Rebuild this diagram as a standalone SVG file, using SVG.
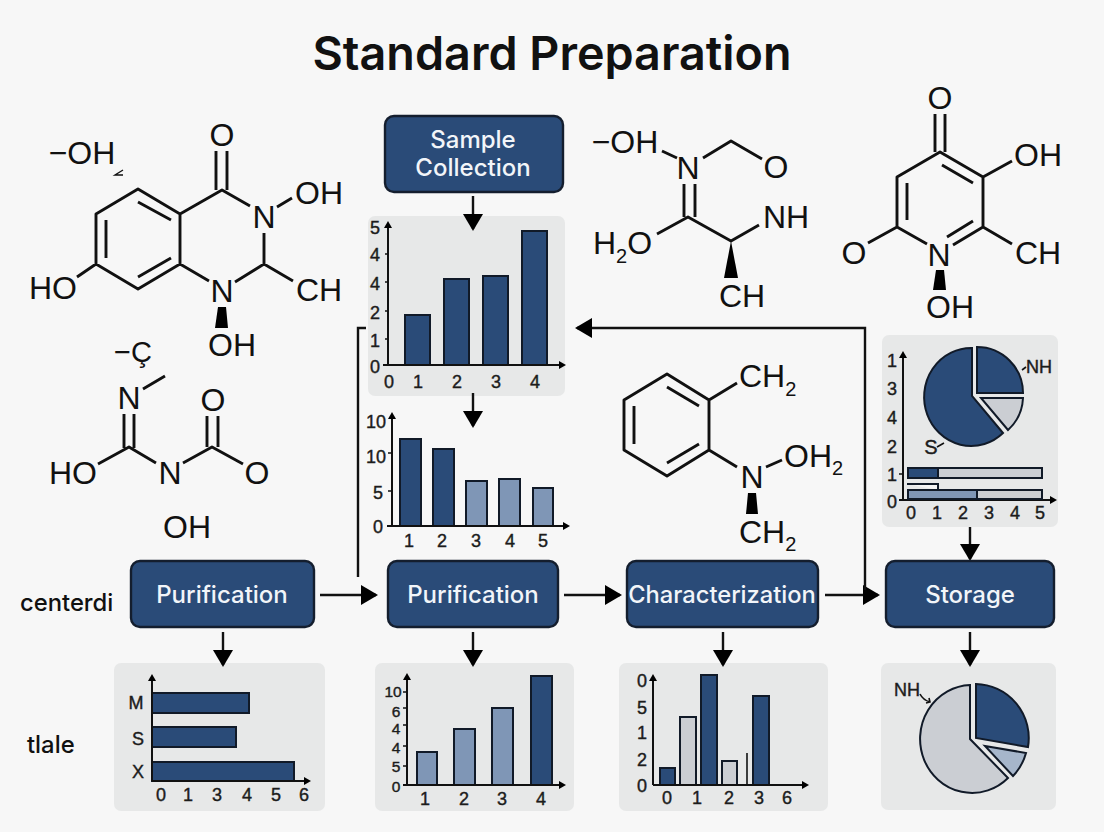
<svg xmlns="http://www.w3.org/2000/svg" width="1104" height="832" viewBox="0 0 1104 832">
<style>
.bond{fill:none;stroke:#111;stroke-width:2.9;stroke-linejoin:round}
.thin{fill:none;stroke:#111;stroke-width:1.4}
.wedge{fill:#000}
.mol{font-family:"Liberation Sans",Arial,sans-serif;font-size:32px;fill:#111;text-anchor:middle}
.mols{text-anchor:start}
.box{fill:#2a4b78;stroke:#141e2e;stroke-width:2.4}
.lab{font-family:Inter,"Liberation Sans",sans-serif;font-size:24px;font-weight:500;fill:#f2f5f9;text-anchor:middle}
.panel{fill:#e7e8e8}
.axis{fill:none;stroke:#111;stroke-width:2;marker-end:url(#ah)}
.tick{fill:none;stroke:#111;stroke-width:1.6}
.bd{fill:#2a4b78;stroke:#111a28;stroke-width:2}
.bl{fill:#7f96b6;stroke:#111a28;stroke-width:2}
.bg{fill:#cbced3;stroke:#111a28;stroke-width:2}
.bp{fill:#a6b6cb;stroke:#111a28;stroke-width:2}
.bw{fill:#f4f4f4;stroke:#111a28;stroke-width:2}
.n{font-family:"Liberation Sans",Arial,sans-serif;font-size:18px;fill:#1c1c1c;text-anchor:middle;stroke:#1c1c1c;stroke-width:.4}
.sm{font-size:15.5px}
.side{font-family:Inter,"Liberation Sans",sans-serif;font-size:23.8px;font-weight:500;fill:#111}
.conn{fill:none;stroke:#111;stroke-width:2.4;marker-end:url(#h)}
.plain{fill:none;stroke:#111;stroke-width:2.4}
</style>
<defs>
<marker id="h" markerUnits="userSpaceOnUse" markerWidth="18" markerHeight="20" refX="15" refY="10" orient="auto"><path d="M0,0L17,10L0,20Z" fill="#000"/></marker>
<marker id="ah" markerUnits="userSpaceOnUse" markerWidth="8" markerHeight="8" refX="5" refY="4" orient="auto"><path d="M0,0L7,4L0,8Z" fill="#000"/></marker>
</defs>
<rect width="1104" height="832" fill="#f7f7f7"/>
<text id="title" x="552" y="70" font-family="Inter,'Liberation Sans',sans-serif" font-size="46.7" font-weight="600" fill="#111" text-anchor="middle">Standard Preparation</text>
<text class="side" x="20" y="611">centerdi</text>
<text class="side" x="27" y="753">tlale</text>

<g id="mol-1">
<path class="bond" d="M138,189L180,214L180,264L138,289L96,264L96,214ZM138,202L171,220M106,220V258M138,277L171,258M216,151V190M227,151V190M180,214L222,190L250,206M277,207L292,198M264,233V264M264,264L235,282M264,264L293,281M180,264L209,281M96,264L77,277"/>
<path class="thin" d="M123,170L115,175H123"/>
<path class="wedge" d="M218,307H226L228,328H215Z"/>
<text class="mol" x="82" y="164">−OH</text><text class="mol" x="222" y="146">O</text><text class="mol" x="264" y="228">N</text><text class="mol" x="319" y="204">OH</text><text class="mol" x="222" y="302">N</text><text class="mol" x="319" y="301">CH</text><text class="mol" x="53" y="299">HO</text><text class="mol" x="232" y="356">OH</text>
</g>
<g id="mol-2">
<path class="bond" d="M143,389L165,376M124,414V448M134,414V448M98,464L129,447L156,463M183,463L212,447L243,464M207,416V447M218,416V447"/>
<text class="mol" x="133" y="362" style="font-size:29px">−Ç</text><text class="mol" x="129" y="409">N</text><text class="mol" x="73" y="484">HO</text><text class="mol" x="170" y="484">N</text><text class="mol" x="213" y="411">O</text><text class="mol" x="257" y="484">O</text><text class="mol" x="187" y="538">OH</text>
</g>
<g id="mol-3">
<path class="bond" d="M662,151L677,158M703,158L731,141L762,159M684,184V217M695,184V217M657,234L688,217L731,241L759,225"/>
<path class="wedge" d="M731,241L738,278H724Z"/>
<text class="mol" x="625" y="153">−OH</text><text class="mol" x="688" y="179">N</text><text class="mol" x="776" y="178">O</text><text class="mol mols" x="593" y="254">H<tspan font-size="20" dy="9">2</tspan><tspan dy="-9">O</tspan></text><text class="mol" x="786" y="228">NH</text><text class="mol" x="742" y="307">CH</text>
</g>
<g id="mol-4">
<path class="bond" d="M935,114V152M945,114V152M868,243L897,227V177L940,152L983,177V227L953,245M942,165L973,183M907,183V220M947,237L973,221M927,244L897,227M983,177L1012,161M983,227L1012,244"/>
<path class="wedge" d="M936,270H944L946,290H933Z"/>
<text class="mol" x="940" y="109">O</text><text class="mol" x="1038" y="166">OH</text><text class="mol" x="1038" y="264">CH</text><text class="mol" x="854" y="264">O</text><text class="mol" x="939" y="266">N</text><text class="mol" x="950" y="318">OH</text>
</g>
<g id="mol-5">
<path class="bond" d="M667,374L709,400V450L667,476L624,450V400ZM667,387L699,406M634,406V444M667,463L699,444M709,400L737,383M709,450L737,467M766,467L782,460"/>
<path class="wedge" d="M748,493H756L758,514H746Z"/>
<text class="mol mols" x="739" y="387">CH<tspan font-size="20" dy="9">2</tspan></text><text class="mol" x="752" y="488">N</text><text class="mol mols" x="784" y="467">OH<tspan font-size="20" dy="8">2</tspan></text><text class="mol mols" x="739" y="543">CH<tspan font-size="20" dy="8">2</tspan></text>
</g>

<g id="chart-1">
<rect class="panel" x="368" y="216" width="197" height="180" rx="7"/>
<path class="bd" d="M405,365V315H430V365ZM444,365V279H469V365ZM483,365V276H508V365ZM522,365V231H547V365Z"/>
<path class="axis" d="M388,365V223"/><path class="axis" d="M383,365H564"/>
<path class="tick" d="M385,254H388M385,282H388M385,311H388M385,339H388"/>
<text class="n" x="375" y="234">5</text><text class="n" x="375" y="261">4</text><text class="n" x="375" y="290">4</text><text class="n" x="375" y="319">2</text><text class="n" x="375" y="347">1</text><text class="n" x="375" y="373">0</text>
<text class="n" x="389" y="388">0</text><text class="n" x="418" y="388">1</text><text class="n" x="457" y="388">2</text><text class="n" x="496" y="388">3</text><text class="n" x="535" y="388">4</text>
</g>
<g id="chart-2">
<path class="bd" d="M400,526V439H421V526ZM433,526V449H454V526Z"/>
<path class="bl" d="M466,526V481H487V526ZM499,526V479H520V526ZM533,526V488H553V526Z"/>
<path class="axis" d="M392,526V414"/><path class="axis" d="M387,526H568"/>
<path class="tick" d="M388,453H392M388,491H392"/>
<text class="n" x="376" y="428">10</text><text class="n" x="376" y="463">10</text><text class="n" x="378" y="499">5</text><text class="n" x="378" y="533">0</text>
<text class="n" x="409" y="547">1</text><text class="n" x="442" y="547">2</text><text class="n" x="476" y="547">3</text><text class="n" x="510" y="547">4</text><text class="n" x="543" y="547">5</text>
</g>
<g id="chart-3">
<rect class="panel" x="882" y="335" width="176" height="192" rx="7"/>
<path class="axis" d="M903,500V353"/><path class="axis" d="M899,500H1055"/>
<path class="bd" d="M972,396L972,348A47,49 0 1 0 1003,433Z"/>
<path class="bd" d="M977,393V347A46,46 0 0 1 1023,393Z"/>
<path class="bg" d="M981,398H1023A46,46 0 0 1 1008,430Z"/>
<path class="tick" d="M1022,370L1026,367M937,447L944,443M899,474H903"/>
<rect class="bg" x="908" y="468" width="134" height="10"/><rect class="bd" x="908" y="468" width="30" height="10"/>
<path class="bw" d="M907,484H938V490"/>
<rect class="bg" x="908" y="490" width="134" height="9"/><rect class="bl" x="908" y="490" width="69" height="9"/>
<text class="n" x="1039" y="373">NH</text><text class="n" x="931" y="454" style="font-size:20px">S</text>
<text class="n" x="892" y="367">1</text><text class="n" x="892" y="395">3</text><text class="n" x="892" y="424">4</text><text class="n" x="892" y="453">2</text><text class="n" x="892" y="481">1</text><text class="n" x="892" y="508">0</text>
<text class="n" x="911" y="519">0</text><text class="n" x="937" y="519">1</text><text class="n" x="963" y="519">2</text><text class="n" x="989" y="519">3</text><text class="n" x="1015" y="519">4</text><text class="n" x="1040" y="519">5</text>
</g>
<g id="chart-4">
<rect class="panel" x="114" y="663" width="211" height="148" rx="7"/>
<path class="bd" d="M152,693H249V713H152ZM152,727H236V747H152ZM152,762H294V781H152Z"/>
<path class="axis" d="M152,781V676"/><path class="axis" d="M152,781H309"/>
<text class="n" x="136" y="709">M</text><text class="n" x="138" y="745">S</text><text class="n" x="138" y="778">X</text>
<text class="n" x="161" y="801">0</text><text class="n" x="188" y="801">1</text><text class="n" x="217" y="801">3</text><text class="n" x="247" y="801">4</text><text class="n" x="276" y="801">5</text><text class="n" x="304" y="801">6</text>
</g>
<g id="chart-5">
<rect class="panel" x="375" y="663" width="199" height="148" rx="7"/>
<path class="bl" d="M417,785V752H437V785ZM454,785V729H475V785ZM492,785V708H513V785Z"/>
<path class="bd" d="M531,785V676H552V785Z"/>
<path class="axis" d="M407,785V675"/><path class="axis" d="M403,785H564"/>
<path class="tick" d="M403,692H407M403,708H407M403,725H407M403,746H407M403,766H407"/>
<text class="n sm" x="393" y="697">10</text><text class="n sm" x="396" y="717">6</text><text class="n sm" x="396" y="734">4</text><text class="n sm" x="396" y="753">4</text><text class="n sm" x="396" y="772">5</text><text class="n sm" x="396" y="792">0</text>
<text class="n" x="425" y="805">1</text><text class="n" x="464" y="805">2</text><text class="n" x="502" y="805">3</text><text class="n" x="541" y="805">4</text>
</g>
<g id="chart-6">
<rect class="panel" x="619" y="663" width="209" height="148" rx="7"/>
<path class="bd" d="M660,785V768H675V785ZM701,785V675H717V785ZM753,785V696H769V785Z"/>
<path class="bg" d="M680,785V717H696V785ZM722,785V761H737V785Z"/>
<path class="tick" d="M747,785V753"/>
<path class="axis" d="M653,785V676"/><path class="axis" d="M653,785H807"/>
<text class="n" x="642" y="687">0</text><text class="n" x="642" y="714">5</text><text class="n" x="642" y="739">1</text><text class="n" x="642" y="766">2</text><text class="n" x="642" y="792">0</text>
<text class="n" x="667" y="804">0</text><text class="n" x="697" y="804">1</text><text class="n" x="729" y="804">2</text><text class="n" x="759" y="804">3</text><text class="n" x="787" y="804">6</text>
</g>
<g id="chart-7">
<rect class="panel" x="881" y="663" width="175" height="147" rx="7"/>
<path class="bg" d="M970,739V685A52,54 0 1 0 1008,778Z"/>
<path class="bd" d="M976,738V684A54,54 0 0 1 1028,747Z"/>
<path class="bp" d="M985,746L1026,753A54,54 0 0 1 1013,776Z"/>
<path class="tick" d="M920,694Q923,700 930,702M926,703L930,702L929,698"/>
<text class="n" x="907" y="696">NH</text>
</g>

<g id="connectors">
<path class="plain" d="M366,328H358V577"/>
<path class="conn" d="M473,196V229"/>
<path class="conn" d="M473,393V426"/>
<path class="conn" d="M320,595H376"/>
<path class="conn" d="M564,595H620"/>
<path class="conn" d="M825,595H878"/>
<path class="conn" d="M865,590V328H577"/>
<path class="conn" d="M223,632V665"/>
<path class="conn" d="M473,632V665"/>
<path class="conn" d="M723,632V665"/>
<path class="conn" d="M970,632V665"/>
<path class="conn" d="M970,527V559"/>
</g>

<g id="node-sample"><rect class="box" x="385" y="116" width="178" height="76" rx="9"/><text class="lab" x="473" y="148">Sample</text><text class="lab" x="473" y="176">Collection</text></g>
<g id="node-purification-1"><rect class="box" x="131" y="561" width="183" height="66" rx="9"/><text class="lab" x="222" y="603">Purification</text></g>
<g id="node-purification-2"><rect class="box" x="388" y="561" width="170" height="66" rx="9"/><text class="lab" x="473" y="603">Purification</text></g>
<g id="node-characterization"><rect class="box" x="627" y="561" width="191" height="66" rx="9"/><text class="lab" x="722" y="603" style="font-size:23.7px">Characterization</text></g>
<g id="node-storage"><rect class="box" x="886" y="561" width="168" height="66" rx="9"/><text class="lab" x="970" y="603">Storage</text></g>
</svg>
